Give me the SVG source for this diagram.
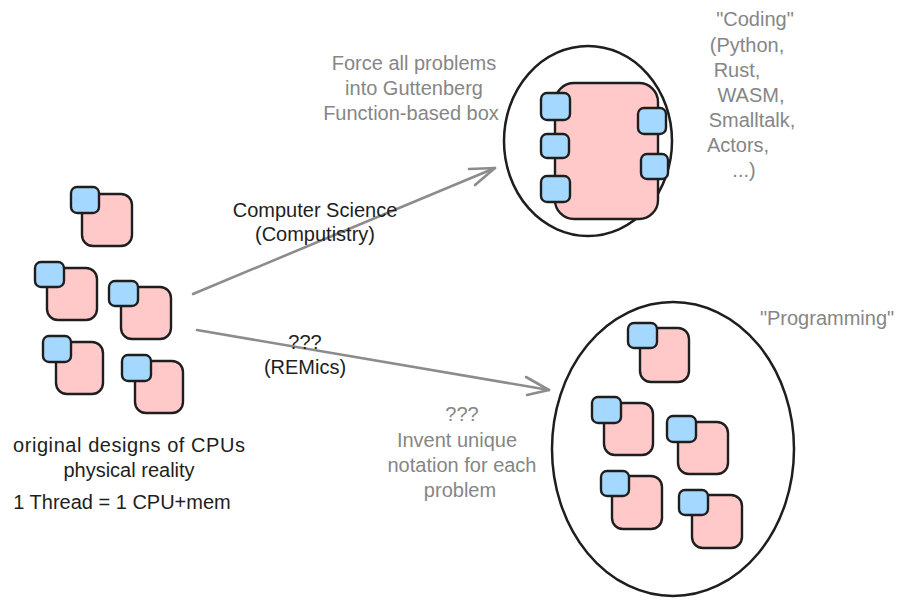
<svg xmlns="http://www.w3.org/2000/svg" width="900" height="604" viewBox="0 0 900 604">
<defs>
<style>
.core{fill:#ffc9c9;stroke:#1e1e1e;stroke-width:2.4}
.port{fill:#a5d8ff;stroke:#1e1e1e;stroke-width:2.4}
.ring{fill:none;stroke:#1e1e1e;stroke-width:2.5}
.arrow{fill:none;stroke:#8c8c8c;stroke-width:2.6;stroke-linecap:round;stroke-linejoin:round}
text{font-family:"Liberation Sans",Arial,sans-serif;font-size:20px;text-anchor:middle}
.dark{fill:#1e1e1e}
.grey{fill:#868686}
</style>
</defs>
<rect width="900" height="604" fill="#ffffff"/>

<!-- left cluster -->
<g id="left-cpu-1"><rect class="core" x="82" y="194" width="50" height="52" rx="11"/><rect class="port" x="71" y="187" width="28" height="26" rx="6"/></g>
<g id="left-cpu-2"><rect class="core" x="47" y="268" width="50" height="52" rx="11"/><rect class="port" x="35" y="262" width="29" height="25" rx="6"/></g>
<g id="left-cpu-3"><rect class="core" x="121" y="287" width="50" height="52" rx="11"/><rect class="port" x="109" y="281" width="29" height="25" rx="6"/></g>
<g id="left-cpu-4"><rect class="core" x="56" y="342" width="47" height="52" rx="11"/><rect class="port" x="43" y="336" width="28" height="26" rx="6"/></g>
<g id="left-cpu-5"><rect class="core" x="135" y="361" width="48" height="52" rx="11"/><rect class="port" x="122" y="355" width="29" height="26" rx="6"/></g>

<g id="left-label">
<text class="dark" x="129" y="452" textLength="232" lengthAdjust="spacing">original designs of CPUs</text>
<text class="dark" x="129" y="477">physical reality</text>
<text class="dark" x="122" y="509">1 Thread = 1 CPU+mem</text>
</g>

<!-- top (coding) node -->
<g id="coding-node">
<ellipse class="ring" cx="588" cy="141" rx="84" ry="95"/>
<rect class="core" x="555" y="83" width="103" height="136" rx="19"/>
<rect class="port" x="541" y="93" width="29" height="27" rx="6"/>
<rect class="port" x="541" y="134" width="28" height="24" rx="6"/>
<rect class="port" x="541" y="176" width="29" height="26" rx="6"/>
<rect class="port" x="638" y="108" width="28" height="26" rx="6"/>
<rect class="port" x="641" y="154" width="27" height="25" rx="6"/>
</g>

<g id="coding-label">
<text class="grey" x="755" y="26">"Coding"</text>
<text class="grey" x="747" y="52">(Python,</text>
<text class="grey" x="737" y="77">Rust,</text>
<text class="grey" x="751" y="102">WASM,</text>
<text class="grey" x="752" y="127">Smalltalk,</text>
<text class="grey" x="738" y="152">Actors,</text>
<text class="grey" x="744" y="177">...)</text>
</g>

<g id="force-label">
<text class="grey" x="414" y="70">Force all problems</text>
<text class="grey" x="414" y="95">into Guttenberg</text>
<text class="grey" x="411" y="120">Function-based box</text>
</g>

<!-- bottom (programming) node -->
<g id="programming-node">
<ellipse class="ring" cx="673" cy="449" rx="121" ry="147"/>
<g id="right-cpu-1"><rect class="core" x="640" y="328" width="49" height="54" rx="11"/><rect class="port" x="628" y="323" width="29" height="25" rx="6"/></g>
<g id="right-cpu-2"><rect class="core" x="604" y="403" width="49" height="52" rx="11"/><rect class="port" x="592" y="397" width="29" height="26" rx="6"/></g>
<g id="right-cpu-3"><rect class="core" x="678" y="422" width="50" height="52" rx="11"/><rect class="port" x="667" y="416" width="29" height="26" rx="6"/></g>
<g id="right-cpu-4"><rect class="core" x="612" y="476" width="50" height="53" rx="11"/><rect class="port" x="601" y="471" width="28" height="25" rx="6"/></g>
<g id="right-cpu-5"><rect class="core" x="692" y="495" width="50" height="53" rx="11"/><rect class="port" x="679" y="490" width="29" height="25" rx="6"/></g>
</g>

<g id="programming-label">
<text class="grey" x="827" y="325">"Programming"</text>
</g>

<g id="invent-label">
<text class="grey" x="462" y="421">???</text>
<text class="grey" x="457" y="447">Invent unique</text>
<text class="grey" x="462" y="472">notation for each</text>
<text class="grey" x="460" y="497">problem</text>
</g>

<!-- connectors -->
<g id="connectors">
<path class="arrow" d="M193 294 L495 168"/>
<path class="arrow" d="M469 169 L495 168 L475 185"/>
<path class="arrow" d="M197 330 L549 390"/>
<path class="arrow" d="M526 377 L549 390 L527 395"/>
<g id="connector-labels">
<text class="dark" x="315" y="217">Computer Science</text>
<text class="dark" x="315" y="241">(Computistry)</text>
<text class="dark" x="305" y="349">???</text>
<text class="dark" x="305" y="374">(REMics)</text>
</g>
</g>
</svg>
